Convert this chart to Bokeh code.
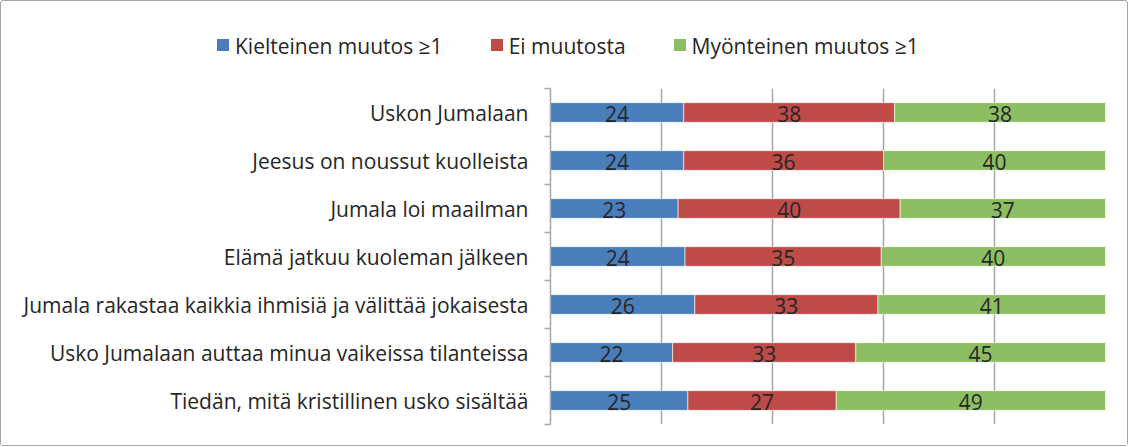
from bokeh.plotting import figure
from bokeh.layouts import column
from bokeh.models import (ColumnDataSource, FixedTicker, Range1d, LabelSet, Div)
from bokeh.core.properties import value
from bokeh.embed import file_html
from bokeh.resources import INLINE

categories = [
    "Uskon Jumalaan",
    "Jeesus on noussut kuolleista",
    "Jumala loi maailman",
    "Elämä jatkuu kuoleman jälkeen",
    "Jumala rakastaa kaikkia ihmisiä ja välittää jokaisesta",
    "Usko Jumalaan auttaa minua vaikeissa tilanteissa",
    "Tiedän, mitä kristillinen usko sisältää",
]
series_names = ["Kielteinen muutos ≥1", "Ei muutosta", "Myönteinen muutos ≥1"]
kielteinen = [24, 24, 23, 24, 26, 22, 25]
ei_muutosta = [38, 36, 40, 35, 33, 33, 27]
myonteinen = [38, 40, 37, 40, 41, 45, 49]
colors = ["#4A7EBB", "#BE4B48", "#8DBE63"]

FONT = "Open Sans"
FS = "21px"
TXT = "#262626"
GRAY = "#A6A6A6"
n = len(categories)
ypos = [n - i - 0.5 for i in range(n)]
series = [kielteinen, ei_muutosta, myonteinen]
totals = [sum(s[i] for s in series) for i in range(n)]

# legend strip (HTML text, built from the series names and colours)
items_html = "".join(
    f'<span style="display:inline-block;width:12px;height:12px;background:{c};'
    f'margin-right:6px;vertical-align:middle;position:relative;top:-1px"></span>'
    f'<span style="margin-right:48px;vertical-align:middle">{nm}</span>'
    for nm, c in zip(series_names, colors))
legend_div = Div(
    text=f'<div style="white-space:nowrap;font-family:\'{FONT}\';font-size:{FS};'
         f'color:{TXT};line-height:26px;padding-left:216px;padding-top:30px">{items_html}</div>',
    width=1126, height=80, margin=0)

# main chart
p = figure(width=1126, height=364, output_backend="svg", toolbar_location=None,
           x_range=Range1d(0, 100), y_range=Range1d(0, n),
           min_border_left=549, min_border_right=22, min_border_top=7, min_border_bottom=21)
p.outline_line_color = None
p.xaxis.visible = False
p.ygrid.grid_line_color = None
p.xgrid.ticker = FixedTicker(ticks=[0, 20, 40, 60, 80, 100])
p.xgrid.grid_line_color = GRAY
p.xgrid.grid_line_width = 1.5

ax = p.yaxis[0]
ax.ticker = FixedTicker(ticks=ypos, minor_ticks=list(range(n + 1)))
ax.major_label_overrides = {y: c for y, c in zip(ypos, categories)}
ax.major_tick_line_color = None
ax.minor_tick_line_color = GRAY
ax.minor_tick_line_width = 1.5
ax.minor_tick_out = 6
ax.minor_tick_in = 0
ax.axis_line_color = GRAY
ax.axis_line_width = 1.5
ax.major_label_text_font = FONT
ax.major_label_text_font_size = FS
ax.major_label_text_color = TXT
ax.major_label_standoff = 16

left = [0.0] * n
for name, vals, col in zip(series_names, series, colors):
    pct = [v / t * 100 for v, t in zip(vals, totals)]
    right = [l + q for l, q in zip(left, pct)]
    mid = [(l + r) / 2 for l, r in zip(left, right)]
    src = ColumnDataSource(dict(y=ypos, left=left, right=right, mid=mid,
                                lab=[str(v) for v in vals]))
    p.hbar(y="y", left="left", right="right", height=0.41, source=src,
           fill_color=col, line_color="white", line_width=0.6)
    p.add_layout(LabelSet(x="mid", y="y", text="lab", source=src, text_align="center",
                          text_baseline="middle", text_font=value(FONT), text_font_size=value(FS),
                          text_color=TXT, y_offset=-1))
    left = right

layout = column(legend_div, p, spacing=0)
layout.styles = {"border": "1px solid #A6A6A6", "border-radius": "3px"}

open("out.html", "w").write(file_html(layout, INLINE))
